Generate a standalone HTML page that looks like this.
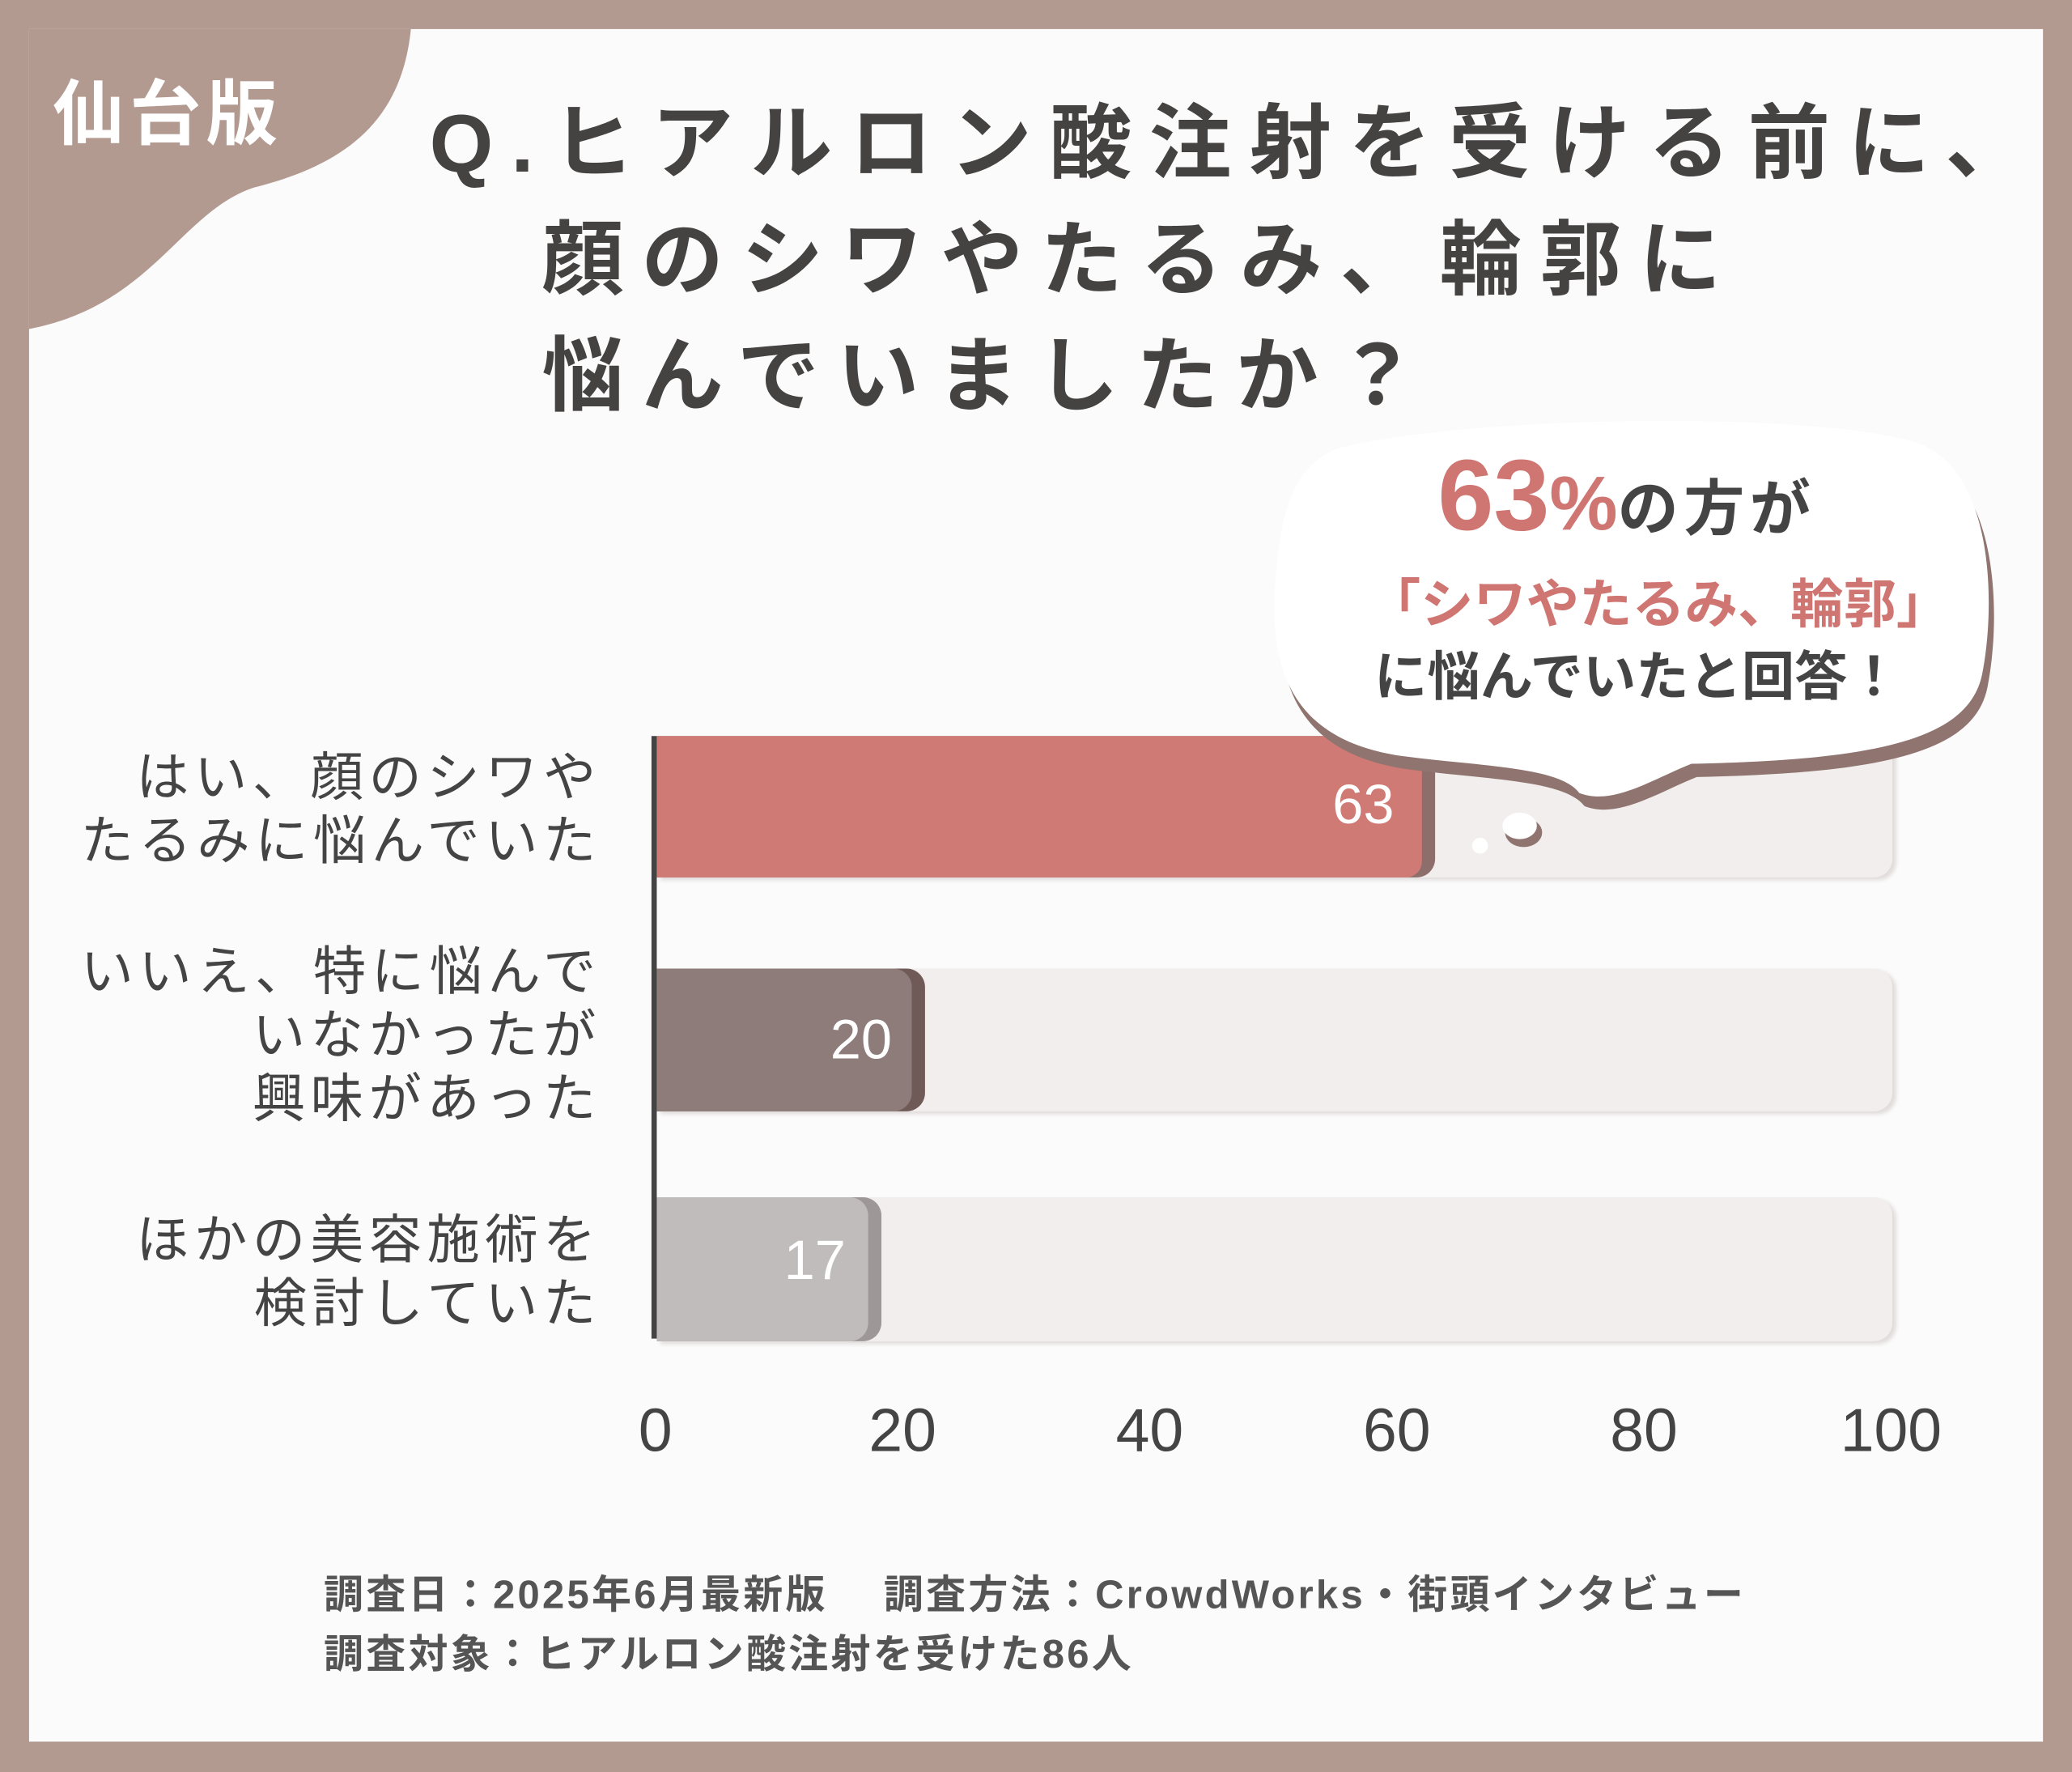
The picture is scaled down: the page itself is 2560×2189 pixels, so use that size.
<!DOCTYPE html>
<html><head><meta charset="utf-8">
<style>
html,body{margin:0;padding:0;width:2560px;height:2189px;overflow:hidden;background:#b39a91;}
#s{position:absolute;left:0;top:0;width:1568px;height:1341px;transform:scale(1.6327,1.6324);transform-origin:0 0;font-family:"Liberation Sans","Noto Sans CJK JP",sans-serif;}
.panel{position:absolute;left:22px;top:22px;width:1524px;height:1296px;background:#fbfbfb;overflow:hidden;}
.t{position:absolute;white-space:nowrap;}
.title{font-weight:bold;color:#454242;font-size:62px;letter-spacing:13.5px;}
.cat{position:absolute;right:1113px;text-align:right;font-size:40px;color:#444;line-height:48px;letter-spacing:4px;white-space:nowrap;}
.track{position:absolute;left:497px;width:935px;background:#f2eeed;border-radius:0 14px 14px 0;box-shadow:3px 2px 3px #e2dddc;}
.bar{position:absolute;left:497px;border-radius:0 14px 14px 0;}
.val{position:absolute;color:#fff;font-size:42px;text-align:right;}
.tick{position:absolute;top:1055px;font-size:46px;color:#444;width:120px;text-align:center;}
.foot{position:absolute;left:245px;font-size:30px;font-weight:bold;color:#555;white-space:nowrap;letter-spacing:2px;}
</style></head><body>
<div id="s">
<div class="panel">
<svg style="position:absolute;left:0;top:0" width="1524" height="1296">
<path d="M-22 -22 L290 -22 C290 60 250 100 170 120 C110 140 90 220 -22 230 Z" fill="#b39a91"/>
</svg>
</div>
<div class="t" style="left:40px;top:42px;font-size:54px;font-weight:bold;color:#fff;letter-spacing:4px;">仙台版</div>
<div class="t title" style="left:325px;top:58px;">Q.ヒアルロン酸注射を受ける前に、</div>
<div class="t title" style="left:410px;top:146px;">顔のシワやたるみ、輪郭に</div>
<div class="t title" style="left:410px;top:234px;">悩んでいましたか？</div>

<div class="track" style="top:557px;height:107px;"></div>
<div class="track" style="top:733px;height:108px;"></div>
<div class="track" style="top:906px;height:109px;"></div>
<div class="bar" style="top:557px;height:107px;width:589px;background:#8e6e6a;"></div>
<div class="bar" style="top:557px;height:107px;width:579px;background:#d07a75;border-radius:0 12px 12px 0;"></div>
<div class="bar" style="top:733px;height:108px;width:203px;background:#6f5a58;"></div>
<div class="bar" style="top:733px;height:108px;width:193px;background:#8e7c7a;"></div>
<div class="bar" style="top:906px;height:109px;width:170px;background:#9d9897;"></div>
<div class="bar" style="top:906px;height:109px;width:160px;background:#c0bcbb;"></div>
<div class="val" style="left:960px;top:585px;width:95px;">63</div>
<div class="val" style="left:580px;top:763px;width:95px;">20</div>
<div class="val" style="left:545px;top:930px;width:95px;">17</div>
<div style="position:absolute;left:493px;top:557px;width:4px;height:456px;background:#444;"></div>

<div class="cat" style="top:565px;">はい、顔のシワや<br>たるみに悩んでいた</div>
<div class="cat" style="top:712px;">いいえ、特に悩んで<br>いなかったが<br>興味があった</div>
<div class="cat" style="top:915px;">ほかの美容施術を<br>検討していた</div>

<div class="tick" style="left:436px;">0</div>
<div class="tick" style="left:623px;">20</div>
<div class="tick" style="left:810px;">40</div>
<div class="tick" style="left:997px;">60</div>
<div class="tick" style="left:1184px;">80</div>
<div class="tick" style="left:1371px;">100</div>

<svg style="position:absolute;left:950px;top:310px" width="580" height="350">
<path d="M60 30 C150 5 420 0 500 25 C560 45 560 150 550 200 C540 250 470 265 330 268 C300 280 270 300 245 290 C230 270 170 270 110 262 C30 250 10 200 15 130 C20 70 30 45 60 30 Z" fill="#8f7470" transform="translate(4,10)"/>
<path d="M60 30 C150 5 420 0 500 25 C560 45 560 150 550 200 C540 250 470 265 330 268 C300 280 270 300 245 290 C230 270 170 270 110 262 C30 250 10 200 15 130 C20 70 30 45 60 30 Z" fill="#ffffff"/>
<ellipse cx="203" cy="320" rx="14" ry="11" fill="#8f7470"/>
<ellipse cx="200" cy="315" rx="13" ry="10" fill="#fff"/>
<ellipse cx="170" cy="330" rx="6" ry="6" fill="#fff"/>
</svg>
<div class="t" style="left:1088px;top:332px;font-size:76px;font-weight:bold;color:#cf7572;">63<span style="font-size:58px">%</span><span style="font-size:46px;color:#444;font-weight:bold;letter-spacing:4px;">の方が</span></div>
<div class="t" style="left:1035px;top:425px;font-size:40px;font-weight:bold;color:#cf7572;">「シワやたるみ、輪郭」</div>
<div class="t" style="left:1040px;top:480px;font-size:40px;font-weight:bold;color:#444;">に悩んでいたと回答！</div>

<div class="foot" style="top:1182px;">調査日：2025年6月最新版　 調査方法：CrowdWorks・街頭インタビュー</div>
<div class="foot" style="top:1227px;">調査対象：ヒアルロン酸注射を受けた86人</div>
</div>
</body></html>
